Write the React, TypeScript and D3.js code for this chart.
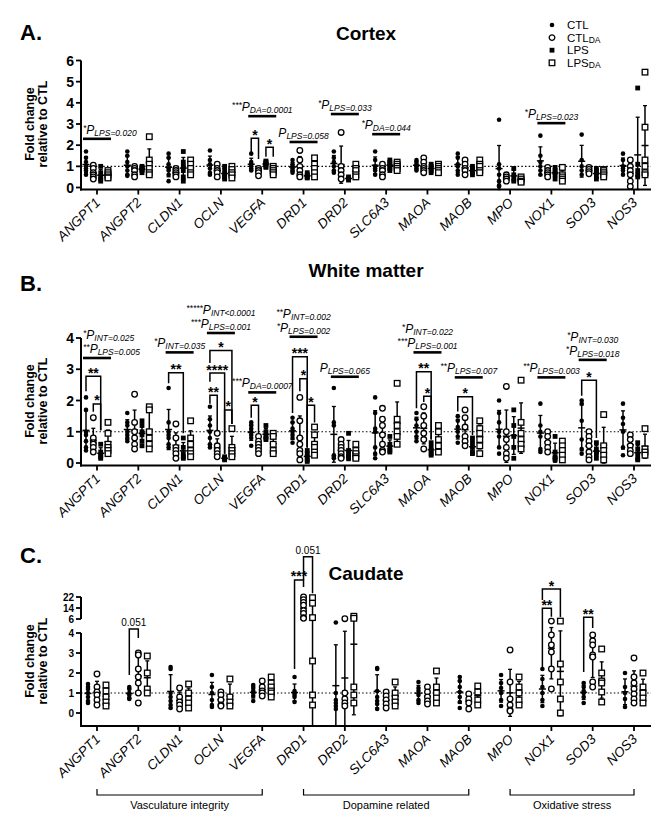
import * as d3 from "d3";

const genes = ["ANGPT1", "ANGPT2", "CLDN1", "OCLN", "VEGFA", "DRD1", "DRD2", "SLC6A3", "MAOA", "MAOB", "MPO", "NOX1", "SOD3", "NOS3"];

// Cortex
const cortexCTL = [
  [1.7, 1.4, 1.2, 1.0, 0.9, 0.8, 0.6], [1.7, 1.5, 1.2, 1.0, 0.8, 0.6, 0.55], [1.6, 1.4, 1.1, 0.9, 0.8, 0.6, 0.3],
  [1.75, 1.3, 1.1, 0.9, 0.7, 0.6], [1.6, 1.2, 1.1, 1.0, 0.9, 0.8], [1.3, 1.1, 1.0, 0.9, 0.8, 0.7],
  [1.7, 1.4, 1.2, 1.0, 0.8, 0.7], [1.7, 1.3, 1.0, 0.9, 0.8, 0.6], [1.3, 1.2, 1.1, 1.0, 0.9, 0.8],
  [1.6, 1.4, 1.1, 1.0, 0.8, 0.6], [3.2, 1.1, 0.9, 0.6, 0.3, 0.1, 0.05], [2.45, 1.5, 1.2, 1.0, 0.8, 0.6],
  [2.5, 1.3, 1.0, 0.8, 0.6], [1.6, 1.3, 1.0, 0.9, 0.8, 0.6],
];
const cortexCTLDA = [
  [1.05, 0.9, 0.7, 0.6, 0.5, 0.4], [1.0, 0.9, 0.8, 0.6, 0.5], [0.9, 0.8, 0.7, 0.6, 0.5],
  [1.1, 0.9, 0.8, 0.7, 0.5], [0.9, 0.8, 0.7, 0.55], [1.75, 1.3, 1.0, 0.8, 0.6, 0.5],
  [2.6, 1.0, 0.8, 0.6, 0.4], [1.1, 0.9, 0.8, 0.6, 0.5], [1.4, 1.2, 1.0, 0.9, 0.8, 0.7],
  [1.3, 1.1, 0.9, 0.8, 0.6], [0.6, 0.5, 0.4, 0.3], [0.95, 0.8, 0.7, 0.6, 0.5],
  [0.95, 0.85, 0.75, 0.65], [1.3, 1.0, 0.8, 0.6, 0.3, 0.05],
];
const cortexLPS = [
  [1.0, 0.7, 0.5, 0.4, 0.3], [1.0, 0.95, 0.9, 0.85, 0.8, 0.7], [1.7, 1.2, 1.0, 0.8, 0.5, 0.3],
  [1.0, 0.8, 0.6, 0.5, 0.4], [1.25, 1.2, 1.15, 1.1, 1.0, 0.95], [0.7, 0.6, 0.5, 0.5, 0.45],
  [0.5, 0.45, 0.4, 0.35], [1.3, 1.2, 1.1, 1.0, 0.9, 0.8], [1.1, 1.0, 0.9, 0.8, 0.7],
  [1.0, 0.9, 0.8, 0.7, 0.6], [0.9, 0.6, 0.4, 0.3], [0.95, 0.8, 0.7, 0.6, 0.4],
  [0.9, 0.8, 0.7, 0.5, 0.4], [4.7, 1.1, 0.8, 0.6, 0.5],
];
const cortexLPSDA = [
  [0.8, 0.7, 0.6, 0.5, 0.45], [2.4, 1.3, 1.1, 0.9, 0.7, 0.6], [1.3, 1.1, 0.9, 0.7, 0.6],
  [1.0, 0.85, 0.7, 0.6, 0.45], [1.0, 0.9, 0.8, 0.7, 0.6], [1.4, 1.1, 0.9, 0.7, 0.5],
  [1.1, 0.9, 0.8, 0.6, 0.5], [1.2, 1.1, 1.0, 0.9, 0.8], [1.1, 1.0, 0.9, 0.8, 0.7],
  [1.3, 1.1, 1.0, 0.8, 0.7], [0.5, 0.4, 0.3, 0.25], [0.95, 0.6, 0.5, 0.4, 0.3],
  [0.85, 0.8, 0.7, 0.6, 0.5], [5.45, 2.85, 1.3, 1.0, 0.7, 0.6],
];

// White matter
const wmCTL = [
  [2.1, 1.7, 1.0, 0.9, 0.7, 0.5, 0.4], [1.6, 1.3, 1.2, 1.0, 0.9, 0.8, 0.7], [2.4, 1.3, 1.0, 0.9, 0.8, 0.6, 0.5],
  [1.8, 1.4, 1.2, 1.0, 0.8, 0.6, 0.5], [1.3, 1.2, 1.1, 1.0, 0.9, 0.8, 0.55], [1.45, 1.3, 1.1, 1.0, 0.9, 0.8, 0.65],
  [2.4, 1.3, 1.2, 0.25, 0.2, 0.15], [2.1, 1.6, 1.1, 1.0, 0.5, 0.3, 0.15], [1.6, 1.4, 1.2, 1.0, 0.85, 0.7],
  [1.5, 1.35, 1.15, 1.0, 0.85, 0.65], [2.0, 1.6, 1.3, 1.0, 0.85, 0.5, 0.3], [1.9, 1.2, 1.0, 0.85, 0.45, 0.35],
  [2.0, 1.9, 1.35, 0.75, 0.45, 0.3], [1.9, 1.45, 1.25, 1.0, 0.5, 0.25],
];
const wmCTLDA = [
  [1.45, 0.8, 0.65, 0.6, 0.5, 0.35], [2.2, 1.3, 1.0, 0.8, 0.6, 0.45], [1.25, 0.8, 0.5, 0.4, 0.3, 0.15],
  [0.95, 0.55, 0.4, 0.3, 0.2], [0.85, 0.7, 0.6, 0.5, 0.4, 0.3], [2.1, 1.35, 0.8, 0.6, 0.4, 0.3, 0.1],
  [0.75, 0.6, 0.5, 0.4, 0.3, 0.2, 0.15], [1.75, 1.4, 1.2, 0.9, 0.6, 0.4, 0.35], [1.8, 1.5, 1.2, 0.95, 0.75, 0.45],
  [1.7, 1.45, 1.15, 0.85, 0.7, 0.55], [2.45, 1.0, 0.75, 0.5, 0.3, 0.15], [1.0, 0.85, 0.65, 0.5, 0.35],
  [1.0, 0.85, 0.7, 0.55, 0.35, 0.2, 0.1], [0.9, 0.75, 0.55, 0.4, 0.3],
];
const wmLPS = [
  [0.6, 0.35, 0.25, 0.2, 0.15], [1.35, 1.2, 1.0, 0.9, 0.7, 0.55], [0.8, 0.5, 0.3, 0.2, 0.15],
  [0.2, 0.15, 0.15, 0.1], [1.2, 1.0, 0.85, 0.8, 0.75], [0.4, 0.3, 0.2, 0.1, 0.05],
  [0.95, 0.4, 0.3, 0.2, 0.15], [0.85, 0.6, 0.5, 0.4, 0.35], [0.65, 0.5, 0.4, 0.3, 0.25],
  [0.8, 0.65, 0.5, 0.35, 0.3], [1.7, 1.2, 0.85, 0.5, 0.15], [0.85, 0.35, 0.2, 0.15, 0.1],
  [0.65, 0.45, 0.35, 0.3, 0.15], [0.65, 0.45, 0.3, 0.15, 0.1],
];
const wmLPSDA = [
  [1.3, 0.95, 0.6, 0.5, 0.4, 0.3], [1.8, 1.7, 1.0, 0.8, 0.6, 0.45], [1.35, 0.8, 0.6, 0.4, 0.3, 0.2],
  [1.1, 0.5, 0.4, 0.3, 0.2], [0.95, 0.85, 0.6, 0.4, 0.3], [1.15, 0.9, 0.6, 0.5, 0.35, 0.25],
  [0.6, 0.4, 0.3, 0.2, 0.15], [2.55, 1.4, 1.2, 1.0, 0.85, 0.6], [1.2, 1.0, 0.75, 0.55, 0.35],
  [1.35, 1.1, 0.95, 0.75, 0.55, 0.3], [2.65, 1.3, 0.95, 0.75, 0.6, 0.45], [0.7, 0.55, 0.4, 0.25, 0.1],
  [1.55, 0.55, 0.4, 0.25, 0.1], [1.1, 0.45, 0.35, 0.25],
];

// Caudate
const cdCTL = [
  [1.45, 1.3, 1.2, 1.0, 0.8, 0.6, 0.5], [1.3, 1.2, 1.0, 0.9, 0.75, 0.7], [2.3, 2.2, 1.0, 0.8, 0.6, 0.4, 0.25],
  [1.9, 1.3, 1.0, 0.65, 0.4, 0.3], [1.4, 1.25, 1.1, 1.0, 0.85, 0.6], [1.8, 1.1, 1.0, 0.9, 0.8, 0.55],
  [5.5, 1.0, 0.65, 0.5, 0.35, 0.2], [2.25, 2.2, 1.1, 0.8, 0.6, 0.45, 0.2], [1.55, 1.25, 1.1, 0.9, 0.65, 0.5],
  [1.8, 1.6, 1.3, 1.05, 0.8, 0.55, 0.25], [1.9, 1.5, 1.25, 1.0, 0.65, 0.35], [2.2, 1.7, 1.3, 1.0, 0.65, 0.35],
  [1.5, 1.3, 1.1, 1.0, 0.8, 0.5], [2.0, 1.3, 1.0, 0.7, 0.3],
];
const cdCTLDA = [
  [1.95, 1.3, 1.05, 0.9, 0.65, 0.4], [3.0, 2.9, 2.2, 1.8, 1.5, 1.0, 0.5], [1.25, 0.8, 0.55, 0.4, 0.2],
  [1.05, 0.9, 0.65, 0.4, 0.35], [1.6, 1.3, 1.1, 1.0, 0.85], [22, 20, 18, 16, 12, 10, 7, 6.5],
  [6.2, 1.0, 0.7, 0.5, 0.35], [1.05, 0.85, 0.65, 0.45, 0.25], [1.3, 1.05, 0.8, 0.6, 0.45],
  [0.95, 0.7, 0.5, 0.2], [3.15, 1.55, 0.7, 0.4, 0.15, 0.1], [5.7, 3.9, 3.4, 3.05, 2.2, 1.2],
  [3.9, 3.6, 3.4, 2.9, 2.8, 1.55, 1.3], [2.75, 1.8, 1.5, 1.2, 0.95, 0.7, 0.5],
];
const cdLPSDA = [
  [1.4, 1.1, 0.8, 0.55, 0.35], [2.85, 2.0, 1.2, 1.0], [1.45, 1.0, 0.7, 0.5, 0.25],
  [1.7, 0.8, 0.55, 0.35], [1.8, 1.5, 1.3, 1.1, 1.0, 0.8], [21.5, 17.5, 7, 2.6, 0.9, 0.4],
  [8.0, 6.5, 1.3, 0.9, 0.5], [1.55, 1.0, 0.75, 0.55, 0.35], [2.1, 1.3, 1.0, 0.75, 0.5],
  [1.35, 1.05, 0.65, 0.4], [1.8, 1.3, 1.0, 0.65, 0.4], [5.7, 2.45, 1.55, 0.7, 0.0],
  [3.2, 2.0, 1.6, 1.5, 1.05, 0.55], [2.0, 1.3, 1.0, 0.75, 0.5],
];

// significance annotations ([stars, subscript] per text line)
const cortexNotes = [
  { gene: "ANGPT1", level: 2.3, lines: [["*", "LPS=0.020"]], align: "start" },
  { gene: "VEGFA", level: 3.37, lines: [["***", "DA=0.0001"]] },
  { gene: "DRD1", level: 2.15, lines: [["", "LPS=0.058"]] },
  { gene: "DRD2", level: 3.47, lines: [["*", "LPS=0.033"]] },
  { gene: "SLC6A3", level: 2.52, lines: [["*", "DA=0.044"]] },
  { gene: "NOX1", level: 3.04, lines: [["*", "LPS=0.023"]] },
];
const cortexBrackets = [
  { gene: "VEGFA", from: 0, to: 1, top: 2.33, ends: [1.62, 1.35], label: "*" },
  { gene: "VEGFA", from: 2, to: 3, top: 1.9, ends: [1.45, 1.45], label: "*" },
];
const wmNotes = [
  { gene: "ANGPT1", level: 3.36, lines: [["*", "INT=0.025"], ["**", "LPS=0.005"]], align: "start" },
  { gene: "CLDN1", level: 3.54, lines: [["*", "INT=0.035"]] },
  { gene: "OCLN", level: 4.16, lines: [["*****", "INT<0.0001"], ["***", "LPS=0.001"]] },
  { gene: "VEGFA", level: 2.26, lines: [["***", "DA=0.0007"]] },
  { gene: "DRD1", level: 4.04, lines: [["**", "INT=0.002"], ["*", "LPS=0.002"]] },
  { gene: "DRD2", level: 2.76, lines: [["", "LPS=0.065"]] },
  { gene: "MAOA", level: 3.54, lines: [["*", "INT=0.022"], ["***", "LPS=0.001"]] },
  { gene: "MAOB", level: 2.74, lines: [["**", "LPS=0.007"]] },
  { gene: "NOX1", level: 2.74, lines: [["**", "LPS=0.003"]] },
  { gene: "SOD3", level: 3.3, lines: [["*", "INT=0.030"], ["*", "LPS=0.018"]] },
];
const wmBrackets = [
  { gene: "ANGPT1", from: 0, to: 2, top: 2.78, ends: [2.3, 1.05], label: "**" },
  { gene: "ANGPT1", from: 1, to: 2, top: 1.89, ends: [1.64, 1.05], label: "*" },
  { gene: "CLDN1", from: 0, to: 2, top: 2.89, ends: [2.55, 0.95], label: "**" },
  { gene: "OCLN", from: 0, to: 1, top: 2.17, ends: [1.9, 1.05], label: "**" },
  { gene: "OCLN", from: 0, to: 2, top: 2.88, ends: [2.6, 0.3], label: "****" },
  { gene: "OCLN", from: 0, to: 3, top: 3.6, ends: [3.2, 1.25], label: "*" },
  { gene: "OCLN", from: 2, to: 3, top: 1.7, ends: [0.3, 1.25], label: "*" },
  { gene: "VEGFA", from: 0, to: 1, top: 1.85, ends: [1.45, 0.95], label: "*" },
  { gene: "DRD1", from: 0, to: 2, top: 3.4, ends: [1.6, 0.5], label: "***" },
  { gene: "DRD1", from: 1, to: 2, top: 2.7, ends: [2.3, 0.5], label: "*" },
  { gene: "DRD1", from: 2, to: 3, top: 1.85, ends: [0.5, 1.3], label: "*" },
  { gene: "MAOA", from: 0, to: 2, top: 2.92, ends: [1.75, 0.75], label: "**" },
  { gene: "MAOA", from: 1, to: 2, top: 2.14, ends: [1.95, 0.75], label: "*" },
  { gene: "MAOB", from: 0, to: 2, top: 2.12, ends: [1.65, 0.9], label: "*" },
  { gene: "SOD3", from: 0, to: 2, top: 2.65, ends: [2.15, 0.8], label: "*" },
];
const cdBrackets = [
  { gene: "ANGPT2", from: 0, to: 1, top: 4.57, ends: [1.9, 3.75], label: "0.051" },
  { gene: "DRD1", from: 0, to: 1, top: 34.4, ends: [2.2, 29.3], label: "***" },
  { gene: "DRD1", from: 1, to: 2, top: 51.3, ends: [34.4, 24.8], label: "0.051" },
  { gene: "NOX1", from: 0, to: 1, top: 13.8, ends: [2.3, 7.7], label: "**" },
  { gene: "NOX1", from: 0, to: 2, top: 27.8, ends: [19.8, 7.5], label: "*" },
  { gene: "SOD3", from: 0, to: 1, top: 7.2, ends: [2.05, 4.7], label: "**" },
];
const geneGroups = [
  { label: "Vasculature integrity", from: "ANGPT1", to: "VEGFA" },
  { label: "Dopamine related", from: "DRD1", to: "MAOB" },
  { label: "Oxidative stress", from: "MPO", to: "NOS3" },
];

const FONT = "'Liberation Sans', Arial, Helvetica, sans-serif";
const x = d3.scalePoint<string>().domain(genes).range([97, 634]);
const AXIS_X0 = 81;
const AXIS_X1 = 651;

function Symbol({ shape, cx, cy }: { shape: string; cx: number; cy: number }) {
  if (shape === "dot") return <circle cx={cx} cy={cy} r={2.3} fill="#000" />;
  if (shape === "circle") return <circle cx={cx} cy={cy} r={2.8} fill="#fff" stroke="#000" strokeWidth={1.3} />;
  if (shape === "fsquare") return <rect x={cx - 2.4} y={cy - 2.4} width={4.8} height={4.8} fill="#000" />;
  return <rect x={cx - 2.8} y={cy - 2.8} width={5.6} height={5.6} fill="#fff" stroke="#000" strokeWidth={1.3} />;
}

function PText({ x0, y0, stars, sub, anchor }: any) {
  return (
    <text x={x0} y={y0} textAnchor={anchor} fontStyle="italic" fontFamily={FONT} fill="#000">
      {stars ? <tspan fontSize={8.5} dy={-3}>{stars}</tspan> : null}
      <tspan fontSize={12} dy={stars ? 3 : 0}>P</tspan>
      <tspan fontSize={8.5} dy={2}>{sub}</tspan>
    </text>
  );
}

function Panel({ cfg }: { cfg: any }) {
  const { y, axisY, groups, offsets, yTicks, segments, notes, brackets, clipMin } = cfg;
  return (
    <g>
      {/* letter + title */}
      <text x={20} y={cfg.letterY} fontFamily={FONT} fontWeight="bold" fontSize={22}>{cfg.letter}</text>
      <text x={366} y={cfg.titleY} textAnchor="middle" fontFamily={FONT} fontWeight="bold" fontSize={19}>{cfg.title}</text>

      {/* y label */}
      <g transform={`translate(0,${cfg.labelY})`} fontFamily={FONT} fontWeight="bold" fontSize={12.5} textAnchor="middle">
        <text transform="translate(34,0) rotate(-90)">Fold change</text>
        <text transform="translate(47,0) rotate(-90)">relative to CTL</text>
      </g>

      {/* reference line at 1 */}
      <line x1={AXIS_X0} x2={AXIS_X1} y1={y(1)} y2={y(1)} stroke="#000" strokeWidth={1.1} strokeDasharray="1.5,2.2" />

      {/* error bars and points */}
      {genes.map((g, gi) =>
        groups.map((grp: any, k: number) => {
          const vals: number[] = grp.data[gi];
          const cx = (x(g) as number) + offsets[k];
          const m = d3.mean(vals) as number;
          const sd = d3.deviation(vals) as number;
          const yHi = y(m + sd);
          const yLo = Math.min(y(Math.max(m - sd, clipMin)), axisY);
          return (
            <g key={`${g}-${k}`}>
              <line x1={cx} x2={cx} y1={yLo} y2={yHi} stroke="#000" strokeWidth={1.5} />
              <line x1={cx - 2} x2={cx + 2} y1={yHi} y2={yHi} stroke="#000" strokeWidth={1.3} />
              {m - sd > clipMin ? <line x1={cx - 2} x2={cx + 2} y1={yLo} y2={yLo} stroke="#000" strokeWidth={1.3} /> : null}
              <line x1={cx - 3.5} x2={cx + 3.5} y1={y(m)} y2={y(m)} stroke="#000" strokeWidth={1.5} />
              {vals.map((v, i) => (
                <Symbol key={i} shape={grp.shape} cx={cx} cy={y(v)} />
              ))}
            </g>
          );
        })
      )}

      {/* axes */}
      {segments.map((s: number[], i: number) => (
        <line key={i} x1={AXIS_X0} x2={AXIS_X0} y1={i === 0 ? axisY + 1 : y(s[0])} y2={y(s[1])} stroke="#000" strokeWidth={2} />
      ))}
      {yTicks.map((t: number) => (
        <g key={t}>
          <line x1={AXIS_X0 - 5} x2={AXIS_X0} y1={y(t)} y2={y(t)} stroke="#000" strokeWidth={1.8} />
          <text x={AXIS_X0 - 7} y={y(t)} dy="0.36em" textAnchor="end" fontFamily={FONT} fontWeight="bold" fontSize={cfg.tickFont}>{t}</text>
        </g>
      ))}
      <line x1={AXIS_X0 - 1} x2={AXIS_X1} y1={axisY} y2={axisY} stroke="#000" strokeWidth={2} />
      {genes.map((g) => (
        <g key={g}>
          <line x1={x(g)} x2={x(g)} y1={axisY} y2={axisY + 5} stroke="#000" strokeWidth={1.8} />
          <text
            transform={`translate(${(x(g) as number) + 4},${axisY + 14}) rotate(-45)`}
            textAnchor="end"
            fontFamily={FONT}
            fontStyle="italic"
            fontSize={13.5}
          >
            {g}
          </text>
        </g>
      ))}

      {/* P-value notes */}
      {notes.map((n: any, i: number) => {
        const x1 = (x(n.gene) as number) + offsets[0] - 3;
        const x2 = (x(n.gene) as number) + offsets[offsets.length - 1] + 3;
        const ly = y(n.level);
        const anchor = n.align === "start" ? "start" : "middle";
        const tx = n.align === "start" ? x1 : (x1 + x2) / 2;
        return (
          <g key={i}>
            <line x1={x1} x2={x2} y1={ly} y2={ly} stroke="#000" strokeWidth={2.6} />
            {n.lines.map((l: string[], j: number) => (
              <PText key={j} x0={tx} y0={ly - 5 - (n.lines.length - 1 - j) * 14} stars={l[0]} sub={l[1]} anchor={anchor} />
            ))}
          </g>
        );
      })}

      {/* comparison brackets */}
      {brackets.map((b: any, i: number) => {
        const x1 = (x(b.gene) as number) + offsets[b.from];
        const x2 = (x(b.gene) as number) + offsets[b.to];
        const ty = y(b.top);
        const isStar = b.label.startsWith("*");
        return (
          <g key={i}>
            <path d={`M${x1},${y(b.ends[0])}V${ty}H${x2}V${y(b.ends[1])}`} fill="none" stroke="#000" strokeWidth={1.5} />
            {isStar ? (
              <text x={(x1 + x2) / 2} y={ty + 1.5} textAnchor="middle" fontFamily={FONT} fontWeight="bold" fontSize={14}>{b.label}</text>
            ) : (
              <text x={(x1 + x2) / 2} y={ty - 3} textAnchor="middle" fontFamily={FONT} fontSize={10}>{b.label}</text>
            )}
          </g>
        );
      })}
    </g>
  );
}

const off4 = [-11, -3.7, 3.7, 11];
const off3 = [-9, 0, 9];

const panels = [
  {
    letter: "A.", title: "Cortex", letterY: 40, titleY: 40, labelY: 124,
    y: d3.scaleLinear().domain([0, 6]).range([187.5, 60.5]),
    axisY: 189.5, yTicks: [0, 1, 2, 3, 4, 5, 6], segments: [[0, 6]], tickFont: 14, clipMin: -1,
    offsets: off4,
    groups: [
      { shape: "dot", data: cortexCTL }, { shape: "circle", data: cortexCTLDA },
      { shape: "fsquare", data: cortexLPS }, { shape: "square", data: cortexLPSDA },
    ],
    notes: cortexNotes, brackets: cortexBrackets,
  },
  {
    letter: "B.", title: "White matter", letterY: 291, titleY: 277, labelY: 401,
    y: d3.scaleLinear().domain([0, 4]).range([463, 338]),
    axisY: 465.5, yTicks: [0, 1, 2, 3, 4], segments: [[0, 4]], tickFont: 14, clipMin: -1,
    offsets: off4,
    groups: [
      { shape: "dot", data: wmCTL }, { shape: "circle", data: wmCTLDA },
      { shape: "fsquare", data: wmLPS }, { shape: "square", data: wmLPSDA },
    ],
    notes: wmNotes, brackets: wmBrackets,
  },
  {
    letter: "C.", title: "Caudate", letterY: 563, titleY: 580, labelY: 661,
    y: d3.scaleLinear().domain([-0.65, 4, 6, 22]).range([726, 633, 619, 597]),
    axisY: 726, yTicks: [0, 1, 2, 3, 4, 6, 14, 22], segments: [[-0.65, 4], [6, 22]], tickFont: 10, clipMin: -0.65,
    offsets: off3,
    groups: [
      { shape: "dot", data: cdCTL }, { shape: "circle", data: cdCTLDA }, { shape: "square", data: cdLPSDA },
    ],
    notes: [], brackets: cdBrackets,
  },
];

const legendItems = [
  { shape: "dot", name: "CTL", sub: "" },
  { shape: "circle", name: "CTL", sub: "DA" },
  { shape: "fsquare", name: "LPS", sub: "" },
  { shape: "square", name: "LPS", sub: "DA" },
];

export default function App() {
  return (
    <svg width={669} height={832} style={{ position: "absolute", left: 0, top: 0, background: "#fff" }}>
      <rect width={669} height={832} fill="#fff" />
      {panels.map((p, i) => (
        <Panel key={i} cfg={p} />
      ))}

      {/* legend */}
      {legendItems.map((it, i) => (
        <g key={i} transform={`translate(552,${25 + i * 12.6})`}>
          <Symbol shape={it.shape} cx={0} cy={0} />
          <text x={15} y={4} fontFamily={FONT} fontSize={11.5}>
            {it.name}
            {it.sub ? <tspan fontSize={8.5} dy={1.5}>{it.sub}</tspan> : null}
          </text>
        </g>
      ))}

      {/* gene category brackets under panel C */}
      {geneGroups.map((g) => {
        const x1 = x(g.from) as number;
        const x2 = x(g.to) as number;
        return (
          <g key={g.label}>
            <path d={`M${x1},789V795H${x2}V789`} fill="none" stroke="#000" strokeWidth={1.2} />
            <text x={(x1 + x2) / 2} y={809} textAnchor="middle" fontFamily={FONT} fontSize={11}>{g.label}</text>
          </g>
        );
      })}
    </svg>
  );
}
